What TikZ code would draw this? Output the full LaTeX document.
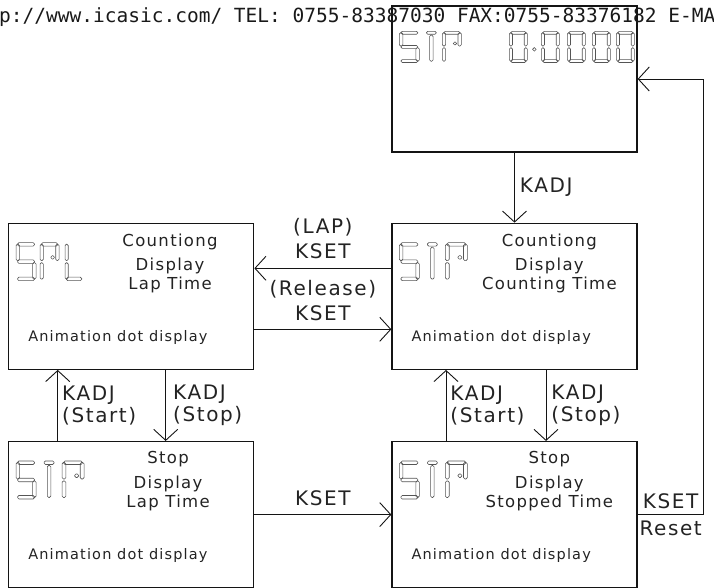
\documentclass[tikz,border=0pt]{standalone}
\usepackage{fontspec}
\usepackage{tikz}
\usetikzlibrary{arrows.meta, positioning, calc}
\newfontfamily\cadfont[LetterSpace=8]{DejaVu Sans}
\newfontfamily\webfont{DejaVu Sans Mono}
\definecolor{boxborder}{RGB}{20,20,20}
\definecolor{segborder}{RGB}{85,85,85}
\definecolor{labeltext}{RGB}{35,35,35}
\definecolor{webtext}{RGB}{25,25,25}
\tikzset{
  statebox/.style={draw=boxborder, minimum width=245pt, minimum height=146pt, line width=1.3pt, inner sep=0pt},
  boxtitle/.style={font=\cadfont\fontsize{16.5}{19}\selectfont, text=labeltext, align=center, anchor=north, inner sep=0pt},
  boxnote/.style={font=\cadfont\fontsize{14.5}{17}\selectfont, text=labeltext, anchor=base west, inner sep=0pt},
  segpiece/.style={draw=segborder, line width=0.6pt, rounded corners=1.4pt},
  flow/.style={-{Straight Barb[length=11pt, width=24pt, line width=0.9pt]}, line width=0.9pt, color=boxborder},
  edgelabel/.style={font=\cadfont\fontsize{20}{25}\selectfont, text=labeltext, align=center, inner sep=2pt},
  sidelabel/.style={font=\cadfont\fontsize{20}{22}\selectfont, text=labeltext, align=left, inner sep=3pt},
  webline/.style={font=\webfont\fontsize{19.5}{22}\selectfont, text=webtext, inner sep=0pt},
}
% seven segment pieces (cell 20 x 38, y grows downwards)
\newcommand{\segW}{20}
\newcommand{\segH}{38}
\newcommand{\segT}{3.5}
\newcommand{\segparta}{\draw[segpiece] (1.5,0) rectangle (\segW-1.5,\segT);}
\newcommand{\segpartb}{\draw[segpiece] (\segW-\segT,1.5) rectangle (\segW,\segH/2-1);}
\newcommand{\segpartc}{\draw[segpiece] (\segW-\segT,\segH/2+1) rectangle (\segW,\segH-1.5);}
\newcommand{\segpartd}{\draw[segpiece] (1.5,\segH-\segT) rectangle (\segW-1.5,\segH);}
\newcommand{\segparte}{\draw[segpiece] (0,\segH/2+1) rectangle (\segT,\segH-1.5);}
\newcommand{\segpartf}{\draw[segpiece] (0,1.5) rectangle (\segT,\segH/2-1);}
\newcommand{\segpartg}{\draw[segpiece] (1.5,\segH/2-\segT/2) rectangle (\segW-1.5,\segH/2+\segT/2);}
\newcommand{\segparth}{\draw[segpiece] (\segW/2-5,0) rectangle (\segW/2+5,\segT);}
\newcommand{\segpartt}{\draw[segpiece] (\segW/2-\segT/2,\segT+1) rectangle (\segW/2+\segT/2,\segH-1.5);}
\newcommand{\segpartp}{\draw[segpiece] (\segW-\segT-5,\segH/2-6) rectangle (\segW-\segT-1.5,\segH/2-2.5);}
\newcommand{\segglyph}[3][]{%
  \begin{scope}[shift={(#2)}, #1]
    \foreach \pc in {#3} {\csname segpart\pc\endcsname}
  \end{scope}}

\begin{document}
\begin{tikzpicture}[x=1pt, y=-1pt]
  \useasboundingbox (0,0) rectangle (714,588);

  % --- States ---
  \node[statebox] (reset) at (514.5,79) {};
  \node[statebox, below=70pt of reset] (count) {};
  \node[statebox, left=137pt of count] (lap) {};
  \node[statebox, below=71pt of lap] (laphold) {};
  \node[statebox, below=71pt of count] (stopped) {};

  % --- Texts in the states ---
  \node[boxtitle] (lap-t) at ($(lap.north west)+(162,11)$) {Countiong\\[5pt]Display\\Lap Time};
  \node[boxtitle] (count-t) at ($(count.north west)+(158,11)$) {Countiong\\[5pt]Display\\Counting Time};
  \node[boxtitle] (laphold-t) at ($(laphold.north west)+(160,10)$) {Stop\\[6pt]Display\\Lap Time};
  \node[boxtitle] (stopped-t) at ($(stopped.north west)+(158,10)$) {Stop\\[6pt]Display\\Stopped Time};
  \node[boxnote] (lap-n) at ($(lap.north west)+(20,119)$) {Animation dot display};
  \node[boxnote] (count-n) at ($(count.north west)+(20,119)$) {Animation dot display};
  \node[boxnote] (laphold-n) at ($(laphold.north west)+(20,119)$) {Animation dot display};
  \node[boxnote] (stopped-n) at ($(stopped.north west)+(20,119)$) {Animation dot display};

  % --- Segment displays ---
  \coordinate (reset-d) at ($(reset.north west)+(8,26)$);
  \segglyph[yscale=0.82]{reset-d}{a,f,g,c,d}
  \segglyph[yscale=0.82, xshift=22pt]{reset-d}{h,t}
  \segglyph[yscale=0.82, xshift=43pt, xscale=0.95]{reset-d}{a,b,f,e,p}
  \foreach \dx in {110,142,168,193,217}
    \segglyph[yscale=0.82, xshift=\dx pt, xscale=0.9]{reset-d}{a,b,c,d,e,f};
  \draw[segpiece] ($(reset.north west)+(143,44)$) circle (1.8pt);

  \coordinate (lap-d) at ($(lap.north west)+(8,20)$);
  \segglyph{lap-d}{a,f,g,c,d}
  \segglyph[xshift=24pt, xscale=0.95]{lap-d}{a,b,f,e,p}
  \segglyph[xshift=49pt, xscale=0.9]{lap-d}{f,e,d}

  \foreach \st in {count,laphold,stopped} {
    \coordinate (\st-d) at ($(\st.north west)+(8,20)$);
    \segglyph{\st-d}{a,f,g,c,d}
    \segglyph[xshift=23pt]{\st-d}{h,t}
    \segglyph[xshift=46pt, xscale=1.1]{\st-d}{a,b,f,e,p}
  }

  % --- Transitions ---
  \draw[flow] (reset.south) -- node[edgelabel, right=3pt] {KADJ} (count.north);
  \draw[flow] ([yshift=28pt]count.west) -- node[edgelabel, above=7pt] {(LAP)\\KSET} ([yshift=28pt]lap.east);
  \draw[flow] ([yshift=-33pt]lap.east) -- node[edgelabel, above=6pt] {(Release)\\KSET} ([yshift=-33pt]count.west);
  \draw[flow] ([xshift=-73.5pt]laphold.north) -- node[sidelabel, right=1pt] {KADJ\\(Start)} ([xshift=-73.5pt]lap.south);
  \draw[flow] ([xshift=34.5pt]lap.south) -- node[sidelabel, right=4pt] {KADJ\\(Stop)} ([xshift=34.5pt]laphold.north);
  \draw[flow] ([xshift=-68.5pt]stopped.north) -- node[sidelabel, right=1pt] {KADJ\\(Start)} ([xshift=-68.5pt]count.south);
  \draw[flow] ([xshift=31.5pt]count.south) -- node[sidelabel, right=2pt] {KADJ\\(Stop)} ([xshift=31.5pt]stopped.north);
  \draw[flow] (laphold.east) -- node[edgelabel, above=6pt] {KSET} (stopped.west);
  \coordinate (back) at ($(stopped.east)+(66,0)$);
  \draw[flow] (stopped.east) -- node[edgelabel, above=3pt] {KSET} node[edgelabel, below=4pt] {Reset} (back) |- (reset.east);

  % --- Header line ---
  \node[webline, anchor=base west] (web) at (-1,23) {p://www.icasic.com/ TEL: 0755-83387030 FAX:0755-83376182 E-MA};

\end{tikzpicture}
\end{document}
